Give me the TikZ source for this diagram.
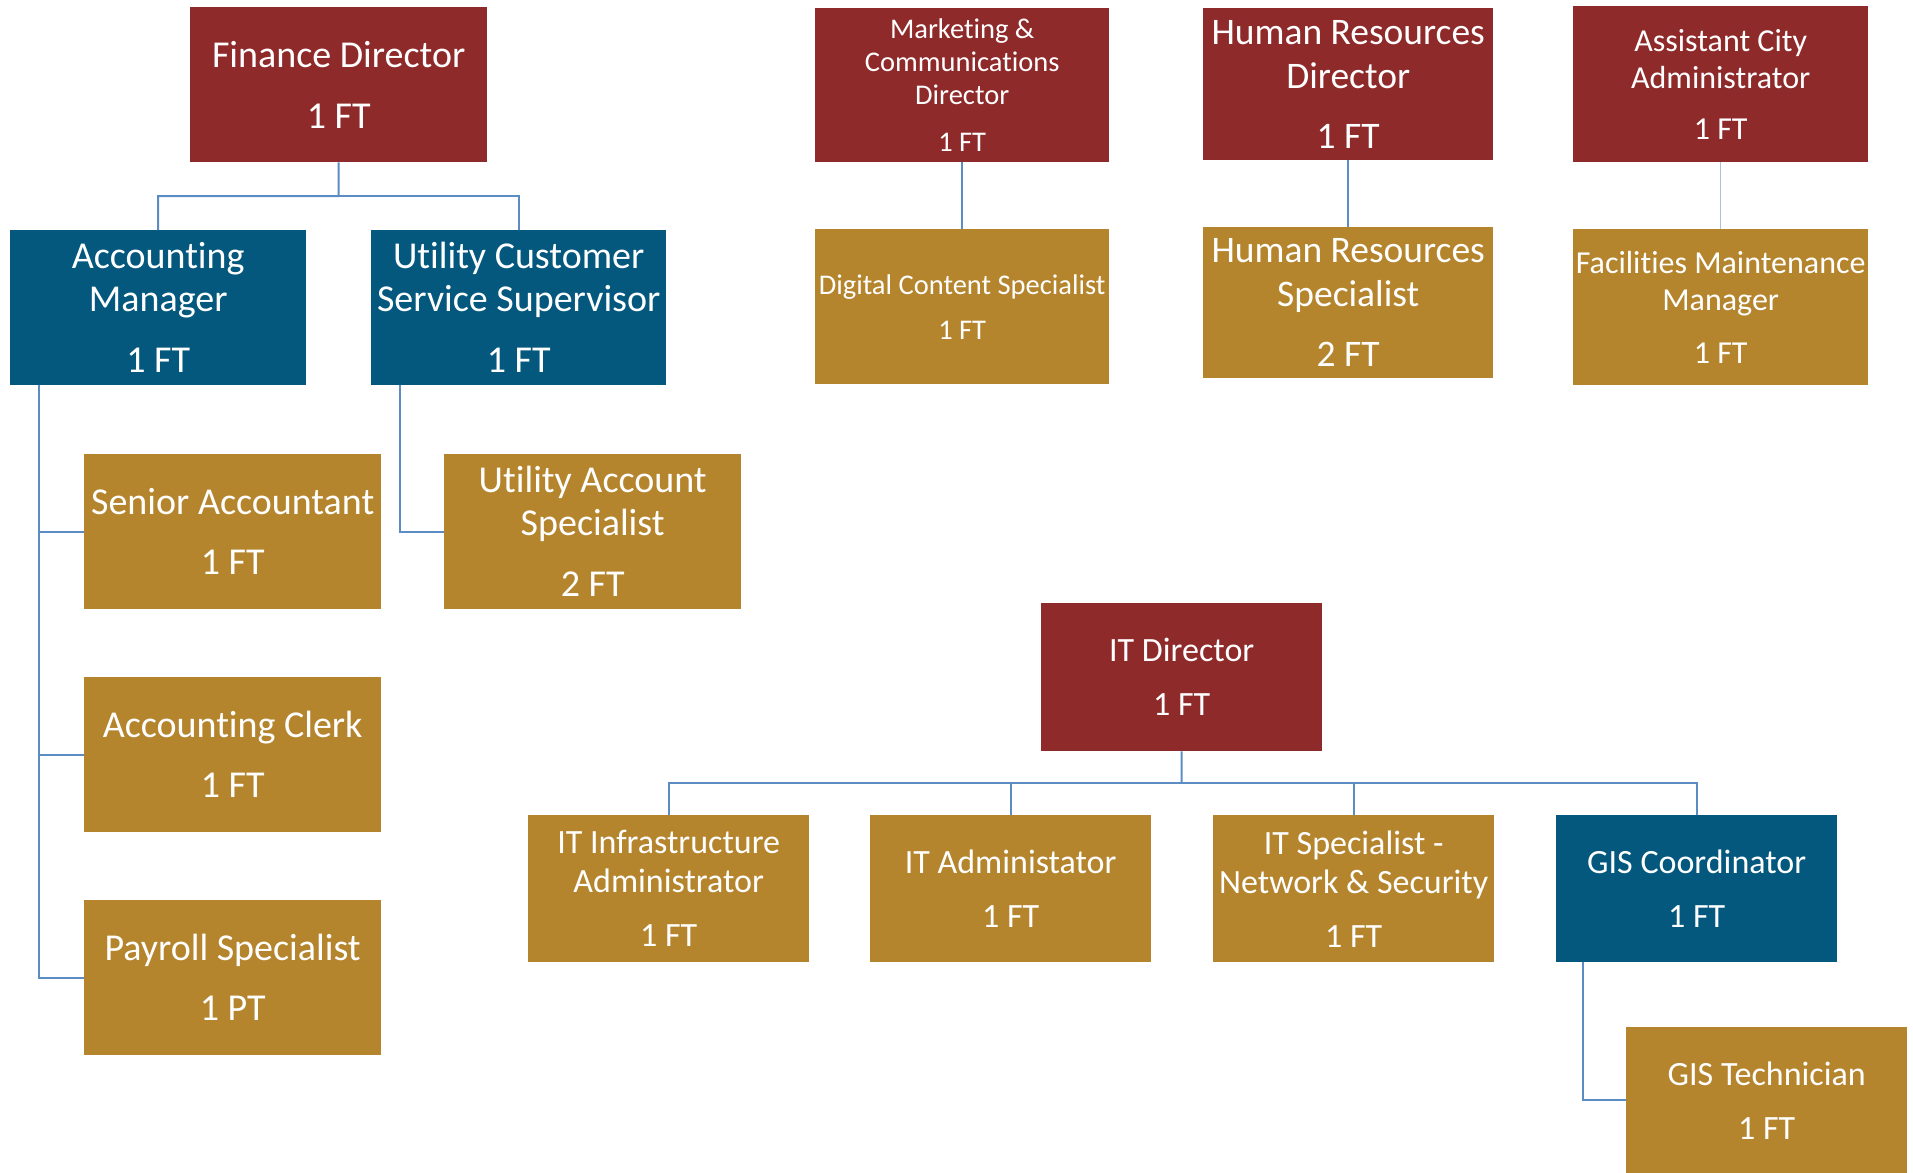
\documentclass[tikz,border=0pt]{standalone}
\usepackage{fontspec}
\setmainfont[Ligatures=NoCommon,RawFeature={-liga;-clig;-calt;-dlig}]{Carlito}
\definecolor{dirred}{HTML}{8F2A2B}
\definecolor{mgrblue}{HTML}{04587E}
\definecolor{staffgold}{HTML}{B5852E}
\definecolor{connblue}{HTML}{5B8CC4}
\definecolor{conngray}{HTML}{A9C3DF}
\tikzset{
  orgbox/.style={anchor=north west, inner sep=0pt, align=center, text=white, draw=none},
  redbox/.style={orgbox, fill=dirred},
  bluebox/.style={orgbox, fill=mgrblue},
  goldbox/.style={orgbox, fill=staffgold},
  wbox/.style args={#1x#2}{minimum width=#1pt, minimum height=#2pt},
  fA/.style={font=\fontsize{38}{43}\selectfont},
  fH/.style={font=\fontsize{37.5}{44}\selectfont},
  fM/.style={font=\fontsize{28.5}{33}\selectfont},
  fC/.style={font=\fontsize{32}{37}\selectfont},
  fI/.style={font=\fontsize{34}{39}\selectfont},
  conn/.style={draw=connblue, line width=2pt},
  conng/.style={draw=conngray, line width=1.5pt},
}
\begin{document}
\begin{tikzpicture}[x=1pt, y=-1pt]
\useasboundingbox (0,0) rectangle (1913,1172);
\clip (0,0) rectangle (1913,1172);
% Finance
\node[redbox, wbox=297x155, fA] (fd) at (190,7) {Finance Director\\[18pt]1 FT};
\node[bluebox, wbox=296x155, fA] (am) at (10,230) {Accounting\\Manager\\[18pt]1 FT};
\node[bluebox, wbox=295x155, fA] (ucss) at (371,230) {Utility Customer\\Service Supervisor\\[18pt]1 FT};
\node[goldbox, wbox=297x155, fA] (sa) at (84,454) {Senior Accountant\\[17pt]1 FT};
\node[goldbox, wbox=297x155, fA] (ac) at (84,677) {Accounting Clerk\\[17pt]1 FT};
\node[goldbox, wbox=297x155, fA] (ps) at (84,900) {Payroll Specialist\\[17pt]1 PT};
\node[goldbox, wbox=297x155, fA] (uas) at (444,454) {Utility Account\\Specialist\\[18pt]2 FT};
% Marketing
\node[redbox, wbox=294x154, fM] (mk) at (815,8) {Marketing \&\\Communications\\Director\\[14pt]1 FT};
\node[goldbox, wbox=294x155, fM] (dcs) at (815,229) {Digital Content Specialist\\[12pt]1 FT};
% HR
\node[redbox, wbox=290x152, fH] (hrd) at (1203,8) {Human Resources\\Director\\[16pt]1 FT};
\node[goldbox, wbox=290x151, fH] (hrs) at (1203,227) {Human Resources\\Specialist\\[16pt]2 FT};
% Assistant City Administrator
\node[redbox, wbox=295x156, fC] (aca) at (1573,6) {Assistant City\\Administrator\\[14pt]1 FT};
\node[goldbox, wbox=295x156, fC] (fmm) at (1573,229) {Facilities Maintenance\\Manager\\[16pt]1 FT};
% IT
\node[redbox, wbox=281x148, fI] (itd) at (1041,603) {IT Director\\[15pt]1 FT};
\node[goldbox, wbox=281x147, fI] (iti) at (528,815) {IT Infrastructure\\Administrator\\[15pt]1 FT};
\node[goldbox, wbox=281x147, fI] (ita) at (870,815) {IT Administator\\[15pt]1 FT};
\node[goldbox, wbox=281x147, fI] (its) at (1213,815) {IT Specialist -\\Network \& Security\\[15pt]1 FT};
\node[bluebox, wbox=281x147, fI] (gis) at (1556,815) {GIS Coordinator\\[15pt]1 FT};
\node[goldbox, wbox=281x146, fI] (gist) at (1626,1027) {GIS Technician\\[15pt]1 FT};
% connectors
\coordinate (fdj) at (338.5,196);
\draw[conn] (fd.south) -- (fdj) -| (am.north);
\draw[conn] (fdj) -| (ucss.north);
\coordinate (amL) at (39,385);
\draw[conn] (amL) |- (sa.west);
\draw[conn] (amL) |- (ac.west);
\draw[conn] (amL) |- (ps.west);
\coordinate (ucL) at (399.5,385);
\draw[conn] (ucL) |- (uas.west);
\draw[conn] (mk.south) -- (dcs.north);
\draw[conn] (hrd.south) -- (hrs.north);
\draw[conng] (aca.south) -- (fmm.north);
\coordinate (itj) at (1181.5,783);
\draw[conn] (itd.south) -- (itj);
\draw[conn] (itj) -| (iti.north);
\draw[conn] (itj) -| (ita.north);
\draw[conn] (itj) -| (its.north);
\draw[conn] (itj) -| (gis.north);
\coordinate (gisL) at (1583,962);
\draw[conn] (gisL) |- (gist.west);
\end{tikzpicture}
\end{document}
